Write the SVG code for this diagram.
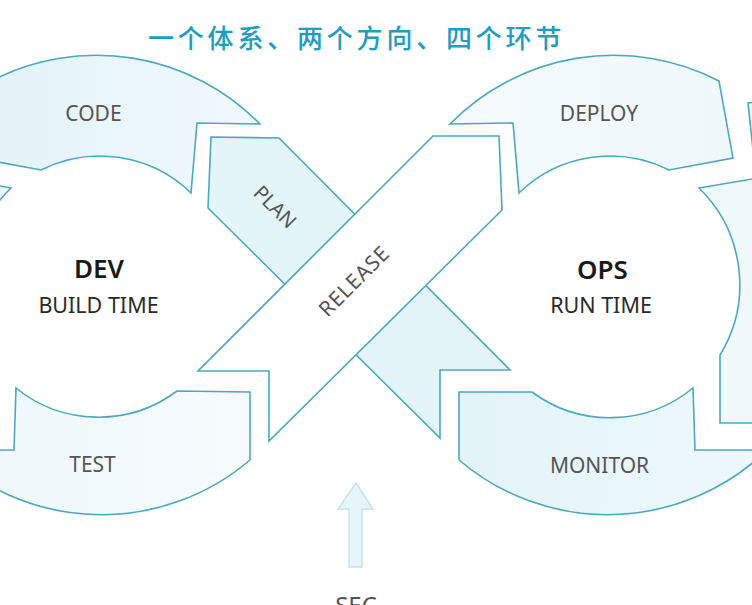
<svg xmlns="http://www.w3.org/2000/svg" width="752" height="605" viewBox="0 0 752 605">
<defs>
<linearGradient id="gCode" x1="0" y1="0" x2="1" y2="0"><stop offset="0" stop-color="#e2f3f9"/><stop offset="1" stop-color="#f1f9fc"/></linearGradient>
<linearGradient id="gDeploy" x1="0" y1="0" x2="1" y2="0"><stop offset="0" stop-color="#f5fbfd"/><stop offset="1" stop-color="#eef8fb"/></linearGradient>
<linearGradient id="gTest" x1="0" y1="0" x2="1" y2="0"><stop offset="0" stop-color="#eef8fb"/><stop offset="1" stop-color="#f6fbfd"/></linearGradient>
<linearGradient id="gMon" x1="0" y1="0" x2="1" y2="0"><stop offset="0" stop-color="#e3f4f9"/><stop offset="1" stop-color="#eef8fb"/></linearGradient>
<style>
.band{stroke:#4aa9c1;stroke-width:1.6;stroke-linejoin:miter}
.lbl{font-family:"Noto Sans","Liberation Sans",sans-serif;font-size:21px;fill:#555;text-anchor:middle}
.big{font-family:"Noto Sans","Liberation Sans",sans-serif;font-size:26px;font-weight:600;fill:#1a1a1a;text-anchor:middle}
.sub{font-family:"Noto Sans","Liberation Sans",sans-serif;font-size:21.5px;fill:#2a2a2a;text-anchor:middle}
</style>
</defs>
<rect width="752" height="605" fill="#ffffff"/>
<text x="148" y="48" font-family="'Noto Sans CJK SC','Noto Sans',sans-serif" font-size="26" font-weight="500" letter-spacing="3.8" fill="#1e9dc2">一个体系、两个方向、四个环节</text>

<g id="dev-left-arrow"><path class="band" fill="#eef8fb" d="M 11 188 L -50 177 L -50 423 L -10 423 L -10 355 A 135 135 0 0 1 11 188 Z"/></g>
<g id="ops-right-arrow"><path class="band" fill="#f0f9fc" d="M 699 188 L 770 176 L 770 423 L 720 423 L 720 355 A 135 135 0 0 0 699 188 Z"/></g>
<g id="ops-top-sliver"><path class="band" fill="#f0f9fc" d="M 748 103 L 770 100 L 770 150 L 753 150 Z"/></g>

<g id="code"><path class="band" fill="url(#gCode)" d="M 260 124 L 197 123 L 191 193 A 131 131 0 0 0 41 170 L -23 158 L -9 81 A 229 229 0 0 1 260 124 Z"/>
<text class="lbl" x="93.5" y="121">CODE</text></g>
<g id="deploy"><path class="band" fill="url(#gDeploy)" d="M 450 124 L 513 123 L 519 193 A 131 131 0 0 1 669 170 L 733 158 L 719 81 A 229 229 0 0 0 450 124 Z"/>
<text class="lbl" x="599" y="121">DEPLOY</text></g>
<g id="test"><path class="band" fill="url(#gTest)" d="M 250 392 L 177 391 A 131 131 0 0 1 16 388 L 14 450 L -58 450 A 229 229 0 0 0 250 460 Z"/>
<text class="lbl" x="92.5" y="472">TEST</text></g>
<g id="monitor"><path class="band" fill="url(#gMon)" d="M 459 392 L 532 392 A 131 131 0 0 0 693 388 L 695 450 L 767 450 A 229 229 0 0 1 459 460 Z"/>
<text class="lbl" x="599.5" y="473">MONITOR</text></g>

<g id="plan"><path class="band" fill="#e4f5fa" d="M 211 137 L 279 138 L 510 370 L 440 370 L 440 438 L 208 208 Z"/>
<text class="lbl" transform="translate(275 207) rotate(45)" x="0" y="7" style="font-size:20px">PLAN</text></g>
<g id="release"><path class="band" fill="#ffffff" d="M 433 136 L 499 136 L 502 210 L 269 441 L 269 371 L 198 371 Z"/>
<text class="lbl" transform="translate(354 281) rotate(-45)" x="0" y="7.5" letter-spacing="0.8">RELEASE</text></g>

<g id="dev"><text class="big" x="99" y="278">DEV</text><text class="sub" x="98.5" y="313">BUILD TIME</text></g>
<g id="ops"><text class="big" x="602.5" y="279">OPS</text><text class="sub" x="601" y="313">RUN TIME</text></g>

<g id="connectors"><path d="M 356 483 L 373 509 L 362 509 L 362 567 L 349 567 L 349 509 L 338 509 Z" fill="#e6f5fa" stroke="#bfe3ee" stroke-width="1.4"/></g>
<g id="sec"><text class="lbl" x="356" y="614" style="font-size:24px">SEC</text></g>
</svg>
